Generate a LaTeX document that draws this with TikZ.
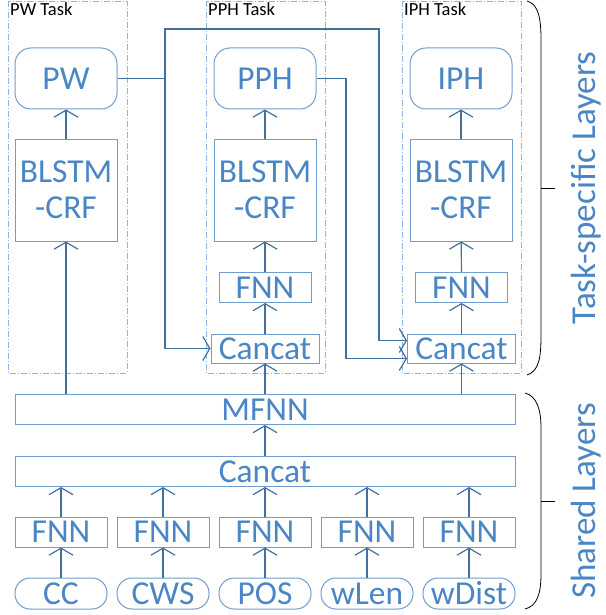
\documentclass[tikz,border=0pt]{standalone}
\usepackage{fontspec}
\setmainfont{Carlito}
\usetikzlibrary{arrows.meta,positioning}
\definecolor{mtltext}{HTML}{4A86C5}
\definecolor{mtlbox}{HTML}{6F9DD0}
\definecolor{mtlline}{HTML}{41719C}
\definecolor{mtltask}{HTML}{8EB4E3}
\tikzset{
  big/.style={font=\fontsize{33.5}{36}\selectfont,text=mtltext},
  layer/.style={big,draw=mtlbox,line width=1pt,inner sep=0pt,align=center},
  outbox/.style={layer,rounded corners=16pt,minimum width=102pt,minimum height=61pt},
  lstm/.style={layer,minimum width=102pt,minimum height=102pt},
  fnnbox/.style={layer,minimum width=92pt,minimum height=30pt},
  catbox/.style={layer,minimum width=108pt,minimum height=29pt},
  widebox/.style={layer,minimum width=500pt,minimum height=30pt},
  feat/.style={layer,rounded corners=15pt,minimum width=92pt,minimum height=31pt},
  taskbox/.style={draw=mtltask,line width=0.8pt,dash pattern=on 6pt off 2pt on 1pt off 2pt},
  tasklbl/.style={font=\fontsize{18.5}{20}\selectfont,anchor=north west,inner sep=2pt},
  flow/.style={-{Straight Barb[length=7pt,width=24pt]},line width=1.2pt,draw=mtlline},
  link/.style={line width=1.2pt,draw=mtlline},
  brace/.style={line width=0.8pt,draw=black},
  side/.style={font=\fontsize{35}{37}\selectfont,text=mtltext,rotate=90,inner sep=0pt},
}

\begin{document}
\begin{tikzpicture}[x=1pt,y=-1pt]
  \useasboundingbox (0,0) rectangle (605,615);

  % task frames
  \draw[taskbox] (8,1) rectangle (127,373);
  \draw[taskbox] (206,1) rectangle (325,373);
  \draw[taskbox] (402,1) rectangle (521,373);
  \node[tasklbl] (pwlbl) at (8,0) {PW Task};
  \node[tasklbl] (pphlbl) at (206,0) {PPH Task};
  \node[tasklbl] (iphlbl) at (402,0) {IPH Task};

  % task-specific layers
  \node[outbox] (pw) at (66,78.5) {PW};
  \node[outbox] (pph) at (265,78.5) {PPH};
  \node[outbox] (iph) at (461,78.5) {IPH};
  \node[lstm] (pwlstm) at (66,190) {BLSTM\\-CRF};
  \node[lstm] (pphlstm) at (265,190) {BLSTM\\-CRF};
  \node[lstm] (iphlstm) at (461,190) {BLSTM\\-CRF};
  \node[fnnbox] (pphfnn) at (265,287.5) {FNN};
  \node[fnnbox] (iphfnn) at (461.5,287.5) {FNN};
  \node[catbox] (pphcat) at (265,348.5) {Cancat};
  \node[catbox] (iphcat) at (461.5,348.5) {Cancat};

  % shared layers
  \node[widebox] (mfnn) at (265,409.5) {MFNN};
  \node[widebox] (shcat) at (265,471.5) {Cancat};
  \foreach \name/\lbl [count=\i] in {cc/CC,cws/CWS,pos/POS,wlen/wLen,wdist/wDist} {
    \node[fnnbox] (fnn\name) at (-41+102*\i,532) {FNN};
    \node[feat] (\name) at (-41+102*\i,593.5) {\lbl};
    \draw[flow] (\name) -- (fnn\name);
    \draw[flow] (fnn\name) -- (fnn\name |- shcat.south);
  }
  \draw[flow] (shcat) -- (mfnn);
  \draw[flow] (mfnn.north -| pwlstm) -- (pwlstm);
  \draw[flow] (mfnn.north -| pphcat) -- (pphcat);
  \draw[flow] (mfnn.north -| iphcat) -- (iphcat);

  \draw[flow] (pwlstm) -- (pw);
  \draw[flow] (pphcat) -- (pphfnn);
  \draw[flow] (pphfnn) -- (pphlstm);
  \draw[flow] (pphlstm) -- (pph);
  \draw[flow] (iphcat) -- (iphfnn);
  \draw[flow] (iphfnn) -- (iphlstm);
  \draw[flow] (iphlstm) -- (iph);

  % cross-task links
  \coordinate (pwjoin) at (165,78.5);
  \coordinate (pwtop) at (379,29);
  \coordinate (pphturn) at (346,78.5);
  \draw[link] (pw) -- (pwjoin);
  \draw[flow] (pwjoin) |- (pphcat.west);
  \draw[flow] (pwjoin) |- (pwtop) |- ([yshift=8pt]iphcat.west);
  \draw[flow] (pph) -- (pphturn) |- ([yshift=-10pt]iphcat.west);

  % braces
  \draw[brace] (527,1) .. controls (539,4) and (541,20) .. (541,40) -- (541,335)
    .. controls (541,358) and (539,371) .. (527,375);
  \draw[brace] (541,188) -- (555,188);
  \draw[brace] (525,393) .. controls (537,396) and (541,410) .. (541,428) -- (541,574)
    .. controls (541,594) and (537,606) .. (525,609);
  \draw[brace] (541,501) -- (555,501);
  \node[side] (tasklayers) at (586,188) {Task-specific Layers};
  \node[side] (sharedlayers) at (586,501) {Shared Layers};
\end{tikzpicture}
\end{document}
